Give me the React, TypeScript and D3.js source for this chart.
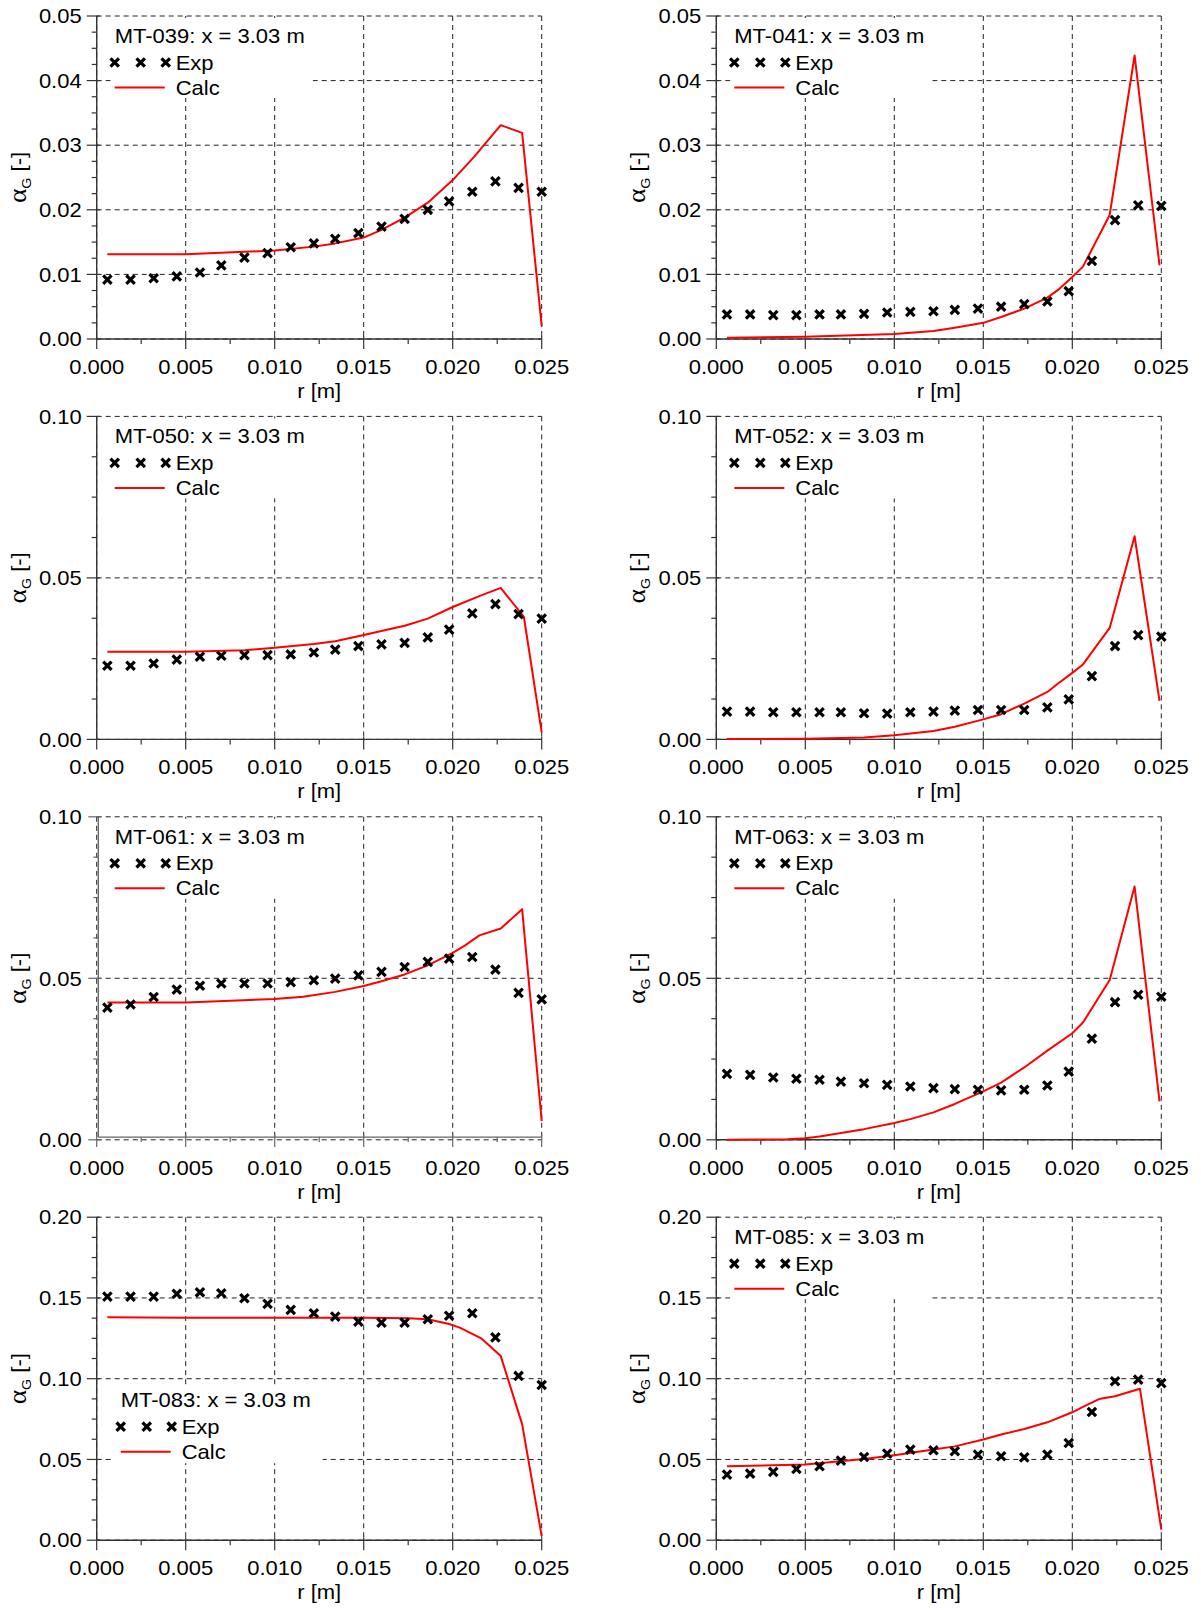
import React from 'react';
import * as d3 from 'd3';

// ---------------- data ----------------
const expR = [0.0006, 0.0019, 0.0032, 0.0045, 0.0058, 0.0070, 0.0083, 0.0096, 0.0109, 0.0122,
  0.0134, 0.0147, 0.0160, 0.0173, 0.0186, 0.0198, 0.0211, 0.0224, 0.0237, 0.0250];

const exp039 = [0.0092, 0.0092, 0.0094, 0.0097, 0.0103, 0.0114, 0.0126, 0.0133, 0.0142, 0.0148,
  0.0155, 0.0164, 0.0174, 0.0186, 0.0200, 0.0213, 0.0228, 0.0244, 0.0234, 0.0228];
const exp041 = [0.0038, 0.0038, 0.0037, 0.0037, 0.0038, 0.0038, 0.0039, 0.0041, 0.0042, 0.0043,
  0.0045, 0.0047, 0.0050, 0.0054, 0.0058, 0.0074, 0.0121, 0.0184, 0.0207, 0.0206];
const exp050 = [0.0228, 0.0228, 0.0235, 0.0247, 0.0256, 0.0259, 0.0261, 0.0261, 0.0263, 0.0269,
  0.0278, 0.0289, 0.0294, 0.0299, 0.0316, 0.0340, 0.0390, 0.0419, 0.0388, 0.0374];
const exp052 = [0.0086, 0.0086, 0.0084, 0.0084, 0.0084, 0.0084, 0.0081, 0.0080, 0.0084, 0.0086,
  0.0089, 0.0091, 0.0091, 0.0091, 0.0099, 0.0124, 0.0196, 0.0289, 0.0323, 0.0318];
const exp061 = [0.0409, 0.0419, 0.0442, 0.0465, 0.0477, 0.0484, 0.0484, 0.0484, 0.0488, 0.0494,
  0.0499, 0.0509, 0.0520, 0.0535, 0.0551, 0.0561, 0.0566, 0.0527, 0.0455, 0.0435];
const exp063 = [0.0204, 0.0201, 0.0193, 0.0189, 0.0186, 0.0180, 0.0175, 0.0170, 0.0165, 0.0160,
  0.0157, 0.0155, 0.0153, 0.0155, 0.0168, 0.0211, 0.0313, 0.0426, 0.0449, 0.0443];
const exp083 = [0.1508, 0.1508, 0.1508, 0.1525, 0.1535, 0.1529, 0.1498, 0.1463, 0.1426, 0.1405,
  0.1384, 0.1353, 0.1347, 0.1347, 0.1368, 0.1390, 0.1405, 0.1256, 0.1017, 0.0961];
const exp085 = [0.0406, 0.0412, 0.0423, 0.0441, 0.0458, 0.0493, 0.0515, 0.0536, 0.0561, 0.0557,
  0.0551, 0.0530, 0.0520, 0.0513, 0.0530, 0.0602, 0.0794, 0.0984, 0.0994, 0.0973];

const calcR039 = [0.0006, 0.0050, 0.0100, 0.0122, 0.0134, 0.0150, 0.0160, 0.0173, 0.0186, 0.0200, 0.0212, 0.0227, 0.0239, 0.0250];
const calc039 = [0.0131, 0.0131, 0.0137, 0.0143, 0.0148, 0.0157, 0.0169, 0.0188, 0.0211, 0.0246, 0.0282, 0.0331, 0.0319, 0.0020];

const calcR041 = [0.0006, 0.0050, 0.0100, 0.0122, 0.0134, 0.0150, 0.0160, 0.0173, 0.0186, 0.0192, 0.0200, 0.0206, 0.0221, 0.0235, 0.0249];
const calc041 = [0.0002, 0.00036, 0.00077, 0.00124, 0.00175, 0.0025, 0.0034, 0.0047, 0.0064, 0.0076, 0.0096, 0.0112, 0.0192, 0.0439, 0.0114];

const calcR050 = [0.0006, 0.0050, 0.0083, 0.0100, 0.0122, 0.0134, 0.0150, 0.0173, 0.0186, 0.0200, 0.0216, 0.0227, 0.0240, 0.0250];
const calc050 = [0.0271, 0.0271, 0.0276, 0.0284, 0.0295, 0.0304, 0.0323, 0.0352, 0.0374, 0.0410, 0.0446, 0.0469, 0.0379, 0.0022];

const calcR052 = [0.0006, 0.0050, 0.0083, 0.0100, 0.0122, 0.0134, 0.0150, 0.0160, 0.0173, 0.0186, 0.0192, 0.0200, 0.0206, 0.0221, 0.0235, 0.0249];
const calc052 = [0.0001, 0.0002, 0.0006, 0.0013, 0.0026, 0.0039, 0.0062, 0.0078, 0.0111, 0.0147, 0.0173, 0.0206, 0.0232, 0.0345, 0.0629, 0.0119];

const calcR061 = [0.0006, 0.0050, 0.0100, 0.0116, 0.0134, 0.0150, 0.0160, 0.0173, 0.0186, 0.0200, 0.0207, 0.0215, 0.0227, 0.0239, 0.0250];
const calc061 = [0.0425, 0.0425, 0.0436, 0.0443, 0.0458, 0.0476, 0.0491, 0.0512, 0.0540, 0.0579, 0.0602, 0.0633, 0.0654, 0.0714, 0.0058];

const calcR063 = [0.0006, 0.0040, 0.0050, 0.0058, 0.0070, 0.0083, 0.0100, 0.0109, 0.0122, 0.0134, 0.0150, 0.0160, 0.0173, 0.0186, 0.0200, 0.0206, 0.0221, 0.0235, 0.0249];
const calc063 = [0.0000, 0.0002, 0.0005, 0.0010, 0.0021, 0.0033, 0.0052, 0.0064, 0.0085, 0.0111, 0.0150, 0.0177, 0.0224, 0.0276, 0.0330, 0.0363, 0.0495, 0.0784, 0.0119];

const calcR083 = [0.0006, 0.0050, 0.0100, 0.0150, 0.0175, 0.0186, 0.0198, 0.0204, 0.0216, 0.0227, 0.0239, 0.0250];
const calc083 = [0.1380, 0.1378, 0.1378, 0.1377, 0.1374, 0.1368, 0.1339, 0.1316, 0.1250, 0.1140, 0.0719, 0.0025];

const calcR085 = [0.0006, 0.0050, 0.0083, 0.0100, 0.0122, 0.0134, 0.0150, 0.0160, 0.0173, 0.0186, 0.0200, 0.0206, 0.0215, 0.0224, 0.0238, 0.0250];
const calc085 = [0.0458, 0.0468, 0.0503, 0.0526, 0.0561, 0.0581, 0.0623, 0.0654, 0.0689, 0.0730, 0.0792, 0.0825, 0.0874, 0.0891, 0.0938, 0.0066];

const names = ['MT-039', 'MT-041', 'MT-050', 'MT-052', 'MT-061', 'MT-063', 'MT-083', 'MT-085'];
const yMaxes = [0.05, 0.05, 0.10, 0.10, 0.10, 0.10, 0.20, 0.20];
const yMajorSteps = [0.01, 0.01, 0.05, 0.05, 0.05, 0.05, 0.05, 0.05];
const xTicks = [0, 0.005, 0.010, 0.015, 0.020, 0.025];
const positionLabel = 'x = 3.03 m';

const panels = [
  { name: names[0], exp: exp039, cr: calcR039, cv: calc039 },
  { name: names[1], exp: exp041, cr: calcR041, cv: calc041 },
  { name: names[2], exp: exp050, cr: calcR050, cv: calc050 },
  { name: names[3], exp: exp052, cr: calcR052, cv: calc052 },
  { name: names[4], exp: exp061, cr: calcR061, cv: calc061, shifted: true },
  { name: names[5], exp: exp063, cr: calcR063, cv: calc063 },
  { name: names[6], exp: exp083, cr: calcR083, cv: calc083, lowLegend: true },
  { name: names[7], exp: exp085, cr: calcR085, cv: calc085 },
].map((p, i) => ({ ...p, yMax: yMaxes[i], yStep: yMajorSteps[i], col: i % 2, row: Math.floor(i / 2) }));

// ---------------- layout ----------------
const X0 = [96.7, 716.3];
const W = 445;
const H = 323;
const TOP0 = 16;
const ROWSTEP = 400.4;
const SX = 1.1;
const FS = 20;
const FONT = '"Liberation Sans", Arial, Helvetica, sans-serif';
const GRID_DASH = '5,4';

function STxt(props: any) {
  const { x, y, size, anchor = 'start', rot = false, children, family } = props;
  const tr = `translate(${x},${y})${rot ? ' rotate(-90)' : ''} scale(${SX},1)`;
  return (
    <text transform={tr} fontSize={size} textAnchor={anchor} fontFamily={family || FONT} fill="#000">
      {children}
    </text>
  );
}

function Cross({ x, y }: { x: number; y: number }) {
  const s = 4.2;
  return (
    <path
      d={`M${x - s},${y - s}L${x + s},${y + s}M${x - s},${y + s}L${x + s},${y - s}`}
      stroke="#000"
      strokeWidth={3.2}
      fill="none"
    />
  );
}

function PanelView({ p }: { p: any }) {
  const x0 = X0[p.col];
  const y0 = TOP0 + p.row * ROWSTEP;
  const xs = d3.scaleLinear().domain([0, 0.025]).range([x0, x0 + W]);
  const ys = d3.scaleLinear().domain([0, p.yMax]).range([y0 + H, y0]);
  const nMaj = Math.round(p.yMax / p.yStep);
  const yMajor = d3.range(nMaj + 1).map((i) => i * p.yStep);
  const yMinor = d3.range(nMaj * 4 + 1).map((i) => (i * p.yStep) / 4);
  const xMinor = d3.range(11).map((i) => i * 0.0025);
  const fy = d3.format('.2f');
  const fx = d3.format('.3f');

  const ax = x0 + (p.shifted ? 1.6 : 0);
  const ay = y0 + H - (p.shifted ? 2.7 : 0);
  const axisColor = p.shifted ? '#666' : '#333';

  const line = d3
    .line<number>()
    .x((_, i) => xs(p.cr[i]))
    .y((d) => ys(d));

  const low = !!p.lowLegend;
  const lx = x0 + (low ? 24 : 18);
  const ly = y0 + (low ? 190 : 27);
  const box = low
    ? { x: x0 + 16, y: y0 + 169, w: 210, h: 77 }
    : { x: x0 + 14, y: y0 + 2, w: 202, h: 80 };

  return (
    <g>
      {yMajor.map((v) => (
        <line key={'gy' + v} x1={x0} x2={x0 + W} y1={ys(v)} y2={ys(v)} stroke="#222" strokeWidth={1} strokeDasharray={GRID_DASH} />
      ))}
      {xTicks.map((v) => (
        <line key={'gx' + v} x1={xs(v)} x2={xs(v)} y1={y0} y2={y0 + H} stroke="#222" strokeWidth={1} strokeDasharray={GRID_DASH} />
      ))}
      <rect x={box.x} y={box.y} width={box.w} height={box.h} fill="#fff" />

      <line x1={ax} x2={ax} y1={y0} y2={ay} stroke={axisColor} strokeWidth={1.4} />
      <line x1={ax} x2={x0 + W} y1={ay} y2={ay} stroke={axisColor} strokeWidth={1.4} />
      {yMinor.map((v, i) => {
        const major = i % 4 === 0;
        const yy = ys(v);
        return (
          <line key={'ty' + i} x1={ax - (major ? 10 : 5)} x2={ax + (major ? 3 : 0)} y1={yy} y2={yy} stroke={axisColor} strokeWidth={1.2} />
        );
      })}
      {xMinor.map((v, i) => {
        const major = i % 2 === 0;
        return (
          <line key={'tx' + i} x1={xs(v)} x2={xs(v)} y1={ay - (major ? 3 : 0)} y2={ay + (major ? 10 : 5)} stroke={axisColor} strokeWidth={1.2} />
        );
      })}
      {yMajor.map((v) => (
        <STxt key={'ly' + v} x={x0 - 15} y={ys(v) + 7.2} size={FS} anchor="end">
          {fy(v)}
        </STxt>
      ))}
      {xTicks.map((v) => (
        <STxt key={'lx' + v} x={xs(v)} y={y0 + H + 35} size={FS} anchor="middle">
          {fx(v)}
        </STxt>
      ))}
      <STxt x={x0 + W / 2} y={y0 + H + 59} size={FS} anchor="middle">
        r [m]
      </STxt>
      <STxt x={x0 - 71} y={y0 + H / 2} size={20} anchor="middle" rot>
        <tspan fontFamily='"Liberation Serif", "Times New Roman", serif' fontSize={25}>α</tspan>
        <tspan fontSize={13} dy={5}>G</tspan>
        <tspan dy={-5}> [-]</tspan>
      </STxt>

      <path d={line(p.cv) || ''} fill="none" stroke="#ff0000" strokeWidth={2} strokeLinejoin="round" />
      {p.exp.map((v: number, i: number) => (
        <Cross key={'e' + i} x={xs(expR[i])} y={ys(v)} />
      ))}

      <STxt x={lx} y={ly} size={FS}>
        {`${p.name}: ${positionLabel}`}
      </STxt>
      {[0, 26, 51].map((d) => (
        <Cross key={'lg' + d} x={lx + d} y={ly + 19.5} />
      ))}
      <STxt x={lx + 61} y={ly + 26.5} size={FS}>
        Exp
      </STxt>
      <line x1={lx} x2={lx + 50} y1={ly + 44.5} y2={ly + 44.5} stroke="#ff0000" strokeWidth={2} />
      <STxt x={lx + 61} y={ly + 51.5} size={FS}>
        Calc
      </STxt>
    </g>
  );
}

export default function App() {
  return (
    <svg
      width={1201}
      height={1610}
      viewBox="0 0 1201 1610"
      style={{ position: 'absolute', left: 0, top: 0, display: 'block', background: '#fff' }}
    >
      <rect x={0} y={0} width={1201} height={1610} fill="#fff" />
      {panels.map((p) => (
        <PanelView key={p.name} p={p} />
      ))}
    </svg>
  );
}
